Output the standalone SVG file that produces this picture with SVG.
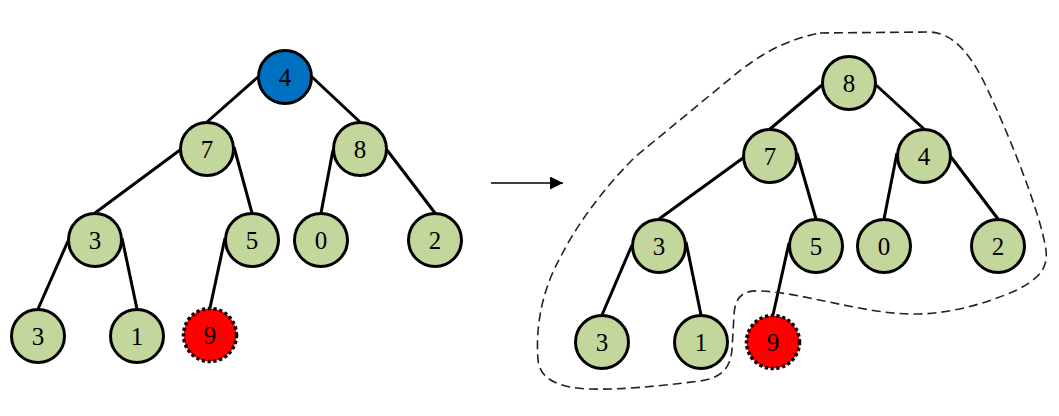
<svg xmlns="http://www.w3.org/2000/svg" width="1059" height="416" viewBox="0 0 1059 416">
<style>
.edge{stroke:#000;stroke-width:3;fill:none}
.n{fill:#C3D69B;stroke:#000;stroke-width:3}
.root{fill:#0070C0;stroke:#000;stroke-width:3}
.new{fill:#FF0000;stroke:#000;stroke-width:3.5;stroke-dasharray:3.2 2.6}
.t{font-family:"Liberation Serif","DejaVu Serif",serif;font-size:25px;text-anchor:middle;fill:#000}
.boundary{fill:none;stroke:#222;stroke-width:1.6;stroke-dasharray:9 5}
</style>
<defs>
<marker id="ah" markerWidth="14" markerHeight="14" refX="13" refY="6.5" orient="auto" markerUnits="userSpaceOnUse">
<path d="M0,0 L13,6.5 L0,13 Z" fill="#000"/>
</marker>
</defs>
<rect width="1059" height="416" fill="#fff"/>
<g id="connectors">
<line class="edge" x1="258" y1="77" x2="207" y2="122"/>
<line class="edge" x1="312" y1="77" x2="360" y2="122"/>
<line class="edge" x1="180" y1="150" x2="95" y2="213"/>
<line class="edge" x1="234" y1="147" x2="252" y2="213"/>
<line class="edge" x1="333" y1="150" x2="321" y2="213"/>
<line class="edge" x1="387" y1="150" x2="435" y2="213"/>
<line class="edge" x1="68" y1="241" x2="38" y2="309"/>
<line class="edge" x1="122" y1="238" x2="137" y2="309"/>
<line class="edge" x1="225" y1="238" x2="210" y2="308"/>
<line class="edge" x1="822" y1="85" x2="770" y2="129"/>
<line class="edge" x1="876" y1="85" x2="924" y2="129"/>
<line class="edge" x1="743" y1="158" x2="659" y2="219"/>
<line class="edge" x1="797" y1="153" x2="816" y2="219"/>
<line class="edge" x1="897" y1="153" x2="884" y2="219"/>
<line class="edge" x1="951" y1="157" x2="998" y2="219"/>
<line class="edge" x1="632" y1="245" x2="602" y2="315"/>
<line class="edge" x1="686" y1="242" x2="701" y2="315"/>
<line class="edge" x1="789" y1="243" x2="773" y2="315"/>
<line x1="491" y1="183" x2="563" y2="183" stroke="#000" stroke-width="1.6" marker-end="url(#ah)"/>
</g>
<path id="boundary" class="boundary" d="M820,33 L930,32 C948,33 965,45 983,80 C1005,125 1040,210 1046,250 C1048,268 1040,278 1017,290 C990,302 950,315 910,314 C860,313 800,292 760,291 C745,290 735,295 734,315 L732,350 C730,370 720,378 700,381 C660,386 620,390 590,389 C560,388 540,380 538,360 C535,320 545,285 560,258 C575,228 600,192 635,157 L720,87 C750,62 775,42 820,33 Z"/>
<g id="L4"><circle class="root" cx="285" cy="77" r="26.5"/><text class="t" x="285" y="86">4</text></g>
<g id="L7"><circle class="n" cx="207" cy="149" r="26.5"/><text class="t" x="207" y="158">7</text></g>
<g id="L8"><circle class="n" cx="360" cy="149" r="26.5"/><text class="t" x="360" y="158">8</text></g>
<g id="L3"><circle class="n" cx="95" cy="240" r="26.5"/><text class="t" x="95" y="249">3</text></g>
<g id="L5"><circle class="n" cx="252" cy="240" r="26.5"/><text class="t" x="252" y="249">5</text></g>
<g id="L0"><circle class="n" cx="321" cy="240" r="26.5"/><text class="t" x="321" y="249">0</text></g>
<g id="L2"><circle class="n" cx="435" cy="240" r="26.5"/><text class="t" x="435" y="249">2</text></g>
<g id="L3b"><circle class="n" cx="38" cy="336" r="26.5"/><text class="t" x="38" y="345">3</text></g>
<g id="L1"><circle class="n" cx="137" cy="336" r="26.5"/><text class="t" x="137" y="345">1</text></g>
<g id="L9"><circle class="new" cx="210" cy="335" r="26.5"/><text class="t" x="210" y="344">9</text></g>
<g id="R8"><circle class="n" cx="849" cy="83" r="26.5"/><text class="t" x="849" y="92">8</text></g>
<g id="R7"><circle class="n" cx="770" cy="156" r="26.5"/><text class="t" x="770" y="165">7</text></g>
<g id="R4"><circle class="n" cx="924" cy="156" r="26.5"/><text class="t" x="924" y="165">4</text></g>
<g id="R3"><circle class="n" cx="659" cy="246" r="26.5"/><text class="t" x="659" y="255">3</text></g>
<g id="R5"><circle class="n" cx="816" cy="246" r="26.5"/><text class="t" x="816" y="255">5</text></g>
<g id="R0"><circle class="n" cx="884" cy="246" r="26.5"/><text class="t" x="884" y="255">0</text></g>
<g id="R2"><circle class="n" cx="998" cy="246" r="26.5"/><text class="t" x="998" y="255">2</text></g>
<g id="R3b"><circle class="n" cx="602" cy="342" r="26.5"/><text class="t" x="602" y="351">3</text></g>
<g id="R1"><circle class="n" cx="701" cy="342" r="26.5"/><text class="t" x="701" y="351">1</text></g>
<g id="R9"><circle class="new" cx="773" cy="342" r="26.5"/><text class="t" x="773" y="351">9</text></g>
</svg>
